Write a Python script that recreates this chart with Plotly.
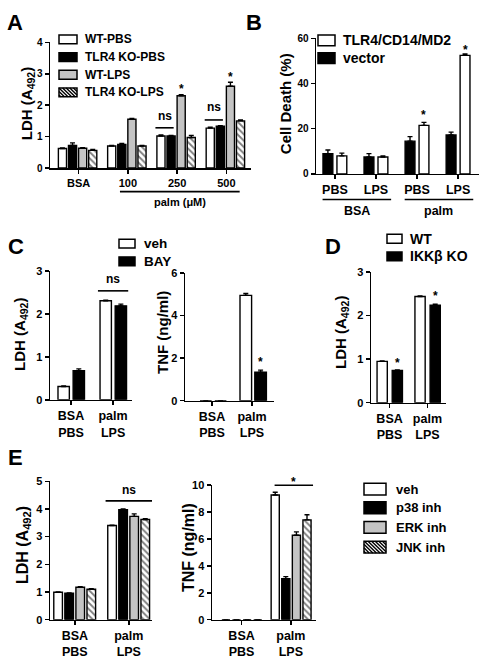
import plotly.graph_objects as go

# ---------------- data ----------------
# Panel A
A_groups = ["BSA", "100", "250", "500"]
A_names = ["WT-PBS", "TLR4 KO-PBS", "WT-LPS", "TLR4 KO-LPS"]
A_wt_pbs = [0.62, 0.70, 1.02, 1.27]
A_ko_pbs = [0.72, 0.75, 1.02, 1.33]
A_wt_lps = [0.63, 1.55, 2.30, 2.60]
A_ko_lps = [0.56, 0.70, 0.97, 1.50]
A_wt_pbs_err = [0.02, 0.02, 0.03, 0.03]
A_ko_pbs_err = [0.08, 0.03, 0.02, 0.02]
A_wt_lps_err = [0.02, 0.03, 0.03, 0.13]
A_ko_lps_err = [0.03, 0.02, 0.07, 0.03]
A_yticks = [0, 1, 2, 3, 4]

# Panel B
B_cats = ["BSA-PBS", "BSA-LPS", "palm-PBS", "palm-LPS"]
B_ticktext = ["PBS", "LPS", "PBS", "LPS"]
B_names = ["TLR4/CD14/MD2", "vector"]
B_vector = [9.0, 7.5, 14.5, 17.2]
B_vector_err = [1.6, 1.5, 2.0, 1.3]
B_tlr4 = [8.0, 7.5, 21.5, 52.5]
B_tlr4_err = [1.2, 0.5, 1.3, 0.6]
B_yticks = [0, 20, 40, 60]

# Panel C
C_cats = ["BSA PBS", "palm LPS"]
C_ticktext = ["BSA<br>PBS", "palm<br>LPS"]
C_names = ["veh", "BAY"]
C_ldh_veh = [0.31, 2.31]
C_ldh_veh_err = [0.01, 0.01]
C_ldh_bay = [0.68, 2.19]
C_ldh_bay_err = [0.04, 0.04]
C_tnf_veh = [0.0, 4.95]
C_tnf_veh_err = [0.0, 0.09]
C_tnf_bay = [0.0, 1.34]
C_tnf_bay_err = [0.0, 0.1]
C_ldh_yticks = [0, 1, 2, 3]
C_tnf_yticks = [0, 2, 4, 6]

# Panel D
D_cats = ["BSA PBS", "palm LPS"]
D_ticktext = ["BSA<br>PBS", "palm<br>LPS"]
D_names = ["WT", "IKKβ KO"]
D_wt = [0.95, 2.44]
D_wt_err = [0.01, 0.01]
D_ko = [0.74, 2.24]
D_ko_err = [0.01, 0.02]
D_yticks = [0, 1, 2, 3]

# Panel E
E_cats = ["BSA PBS", "palm LPS"]
E_ticktext = ["BSA<br>PBS", "palm<br>LPS"]
E_names = ["veh", "p38 inh", "ERK inh", "JNK inh"]
E_ldh_veh = [0.99, 3.40]
E_ldh_p38 = [0.96, 3.97]
E_ldh_erk = [1.17, 3.73]
E_ldh_jnk = [1.10, 3.62]
E_ldh_veh_err = [0.01, 0.01]
E_ldh_p38_err = [0.01, 0.03]
E_ldh_erk_err = [0.02, 0.09]
E_ldh_jnk_err = [0.02, 0.03]
E_tnf_veh = [0.0, 9.27]
E_tnf_p38 = [0.0, 3.05]
E_tnf_erk = [0.0, 6.28]
E_tnf_jnk = [0.0, 7.42]
E_tnf_veh_err = [0.0, 0.2]
E_tnf_p38_err = [0.0, 0.15]
E_tnf_erk_err = [0.0, 0.25]
E_tnf_jnk_err = [0.0, 0.38]
E_ldh_yticks = [0, 1, 2, 3, 4, 5]
E_tnf_yticks = [0, 2, 4, 6, 8, 10]

# ---------------- styling helpers ----------------
W, H = 486, 664
FONT = "Arial, Liberation Sans, sans-serif"
GRAY = "#c4c4c4"
STYLES = {
    "white": dict(color="white"),
    "black": dict(color="black"),
    "gray": dict(color=GRAY),
    "hatch": dict(color="white", pattern=dict(shape="\\", fgcolor="black", bgcolor="white",
                                              size=4.5, solidity=0.42, fillmode="overlay")),
}


def pxx(x):
    return x / W


def pyy(y):
    return 1 - y / H


fig = go.Figure()
layout = {}
shapes = []
annotations = []


class Panel:
    def __init__(self, idx, cats, ticktext, series, x_px, y_px, xr, yr, yticks,
                 off0, slot, width, xtick_size, ytick_size):
        self.x_px, self.y_px, self.xr, self.yr = x_px, y_px, xr, yr
        self.cats = cats
        self.off0, self.slot, self.width = off0, slot, width
        xa = "x" if idx == 1 else f"x{idx}"
        ya = "y" if idx == 1 else f"y{idx}"
        for i, (name, vals, errs, style) in enumerate(series):
            st = STYLES[style]
            marker = dict(color=st["color"], line=dict(color="black", width=1.4))
            if "pattern" in st:
                marker["pattern"] = st["pattern"]
            fig.add_trace(go.Bar(
                x=cats, y=vals, name=name, xaxis=xa, yaxis=ya,
                offset=off0[i] if isinstance(off0, list) else off0 + i * slot,
                width=width,
                marker=marker,
                error_y=dict(type="data", array=errs, arrayminus=[0] * len(errs),
                             symmetric=False, color="black", thickness=1.4, width=2.5),
                showlegend=False, cliponaxis=False, hoverinfo="skip",
            ))
        axis_common = dict(showline=True, linecolor="black", linewidth=1.5, ticks="outside",
                           ticklen=4, tickwidth=1.5, tickcolor="black", showgrid=False,
                           zeroline=False, fixedrange=True)
        layout["xaxis" if idx == 1 else f"xaxis{idx}"] = dict(
            domain=[pxx(x_px[0]), pxx(x_px[1])], range=xr, type="category",
            categoryorder="array", categoryarray=cats, tickvals=cats, ticktext=ticktext,
            anchor=ya, tickfont=dict(family=FONT, size=xtick_size, color="black", weight="bold"),
            **axis_common)
        layout["yaxis" if idx == 1 else f"yaxis{idx}"] = dict(
            domain=[pyy(y_px[0]), pyy(y_px[1])], range=yr, tickvals=yticks, anchor=xa,
            tickfont=dict(family=FONT, size=ytick_size, color="black", weight="bold"),
            **axis_common)

    def X(self, v):
        return pxx(self.x_px[0] + (v - self.xr[0]) / (self.xr[1] - self.xr[0]) * (self.x_px[1] - self.x_px[0]))

    def bar_center(self, cat_i, series_i):
        off = self.off0[series_i] if isinstance(self.off0, list) else self.off0 + series_i * self.slot
        return self.X(cat_i + off + self.width / 2)

    def Y(self, v):
        return pyy(self.y_px[0] - (v - self.yr[0]) / (self.yr[1] - self.yr[0]) * (self.y_px[0] - self.y_px[1]))


def text(x, y, s, size, angle=0, xanchor="center", yanchor="middle", yshift=0):
    annotations.append(dict(x=x, y=y, xref="paper", yref="paper", text=s, showarrow=False,
                            textangle=angle, xanchor=xanchor, yanchor=yanchor, yshift=yshift,
                            font=dict(family=FONT, size=size, color="black", weight="bold")))


def hline(x0, x1, y):
    shapes.append(dict(type="line", xref="paper", yref="paper", x0=x0, x1=x1, y0=y, y1=y,
                       line=dict(color="black", width=1.6)))


def star(x, y):
    text(x, y, "*", 12, yshift=-3)


def legend(names, styles, bx0, bx1, ycs, bh, tx, size):
    for name, style, yc in zip(names, styles, ycs):
        y0, y1 = yc - bh / 2, yc + bh / 2
        fill = "white" if style == "hatch" else STYLES[style]["color"]
        shapes.append(dict(type="rect", xref="paper", yref="paper", x0=pxx(bx0), x1=pxx(bx1),
                           y0=pyy(y1), y1=pyy(y0), fillcolor=fill, line=dict(width=0)))
        if style == "hatch":
            w, h = bx1 - bx0, y1 - y0
            c = -w
            while c < h:
                t0, t1 = max(0, -c), min(w, h - c)
                if t1 > t0:
                    shapes.append(dict(type="line", xref="paper", yref="paper",
                                       x0=pxx(bx0 + t0), y0=pyy(y0 + t0 + c),
                                       x1=pxx(bx0 + t1), y1=pyy(y0 + t1 + c),
                                       line=dict(color="black", width=1.4)))
                c += 3.6
        shapes.append(dict(type="rect", xref="paper", yref="paper", x0=pxx(bx0), x1=pxx(bx1),
                           y0=pyy(y1), y1=pyy(y0), fillcolor="rgba(0,0,0,0)",
                           line=dict(color="black", width=1.5)))
        text(pxx(tx), pyy(yc), name, size, xanchor="left")


# ---------------- Panel A ----------------
pA = Panel(1, A_groups, A_groups,
           [(A_names[0], A_wt_pbs, A_wt_pbs_err, "white"),
            (A_names[1], A_ko_pbs, A_ko_pbs_err, "black"),
            (A_names[2], A_wt_lps, A_wt_lps_err, "gray"),
            (A_names[3], A_ko_lps, A_ko_lps_err, "hatch")],
           (50, 251), (165, 37), [-0.58, 3.5], [0, 4], A_yticks,
           -0.41, 0.205, 0.165, 11, 10)
for gi, (ly, ty) in zip([2, 3], [(1.28, 1.66), (1.53, 1.94)]):
    hline(pA.X(gi - 0.44), pA.X(gi - 0.07), pA.Y(ly))
    text(pA.X(gi - 0.255), pA.Y(ty), "ns", 12)
star(pA.bar_center(2, 2), pA.Y(2.62))
star(pA.bar_center(3, 2), pA.Y(3.0))
hline(pA.X(1 - 0.16), pA.X(3 + 0.27), pyy(189))
text((pA.X(1 - 0.16) + pA.X(3 + 0.27)) / 2, pyy(200), "palm (μM)", 11)
text(pxx(27), pyy(100), "LDH (A<sub>492</sub>)", 15, angle=-90)
legend(A_names, ["white", "black", "gray", "hatch"], 59, 77, [34, 52, 70, 88], 9, 83, 12)
text(pxx(15), pyy(17), "A", 22)

# ---------------- Panel B ----------------
pB = Panel(2, B_cats, B_ticktext,
           [(B_names[1], B_vector, B_vector_err, "black"),
            (B_names[0], B_tlr4, B_tlr4_err, "white")],
           (316, 479), (171, 33), [-0.46, 3.51], [0, 60], B_yticks,
           [-0.29, 0.05], 0, 0.24, 12.5, 10)
star(pB.bar_center(2, 1), pB.Y(27.4))
star(pB.bar_center(3, 1), pB.Y(56.1))
for a, b, lab in [(0, 1, "BSA"), (2, 3, "palm")]:
    x0, x1 = pB.X(a - 0.3), pB.X(b + 0.37)
    hline(x0, x1, pyy(197))
    text((x0 + x1) / 2, pyy(209), lab, 12.5)
text(pxx(285), pyy(100), "Cell Death (%)", 15, angle=-90)
legend(B_names, ["white", "black"], 318, 335, [35, 53], 11, 341, 14)
text(pxx(254), pyy(17), "B", 22)

# ---------------- Panel C ----------------
pC1 = Panel(3, C_cats, C_ticktext,
            [(C_names[0], C_ldh_veh, C_ldh_veh_err, "white"),
             (C_names[1], C_ldh_bay, C_ldh_bay_err, "black")],
            (50, 132), (401, 270), [-0.5, 1.45], [0, 3], C_ldh_yticks,
            [-0.31, 0.05], 0, 0.27, 12.5, 11)
hline(pC1.X(1 - 0.36), pC1.X(1 + 0.36), pC1.Y(2.54))
text(pC1.X(1), pC1.Y(2.82), "ns", 12)
text(pxx(21), pyy(335), "LDH (A<sub>492</sub>)", 15, angle=-90)

pC2 = Panel(4, C_cats, C_ticktext,
            [(C_names[0], C_tnf_veh, C_tnf_veh_err, "white"),
             (C_names[1], C_tnf_bay, C_tnf_bay_err, "black")],
            (185, 274), (402, 272), [-0.675, 1.55], [0, 6], C_tnf_yticks,
            [-0.3, 0.07], 0, 0.29, 12.5, 11)
star(pC2.bar_center(1, 1), pC2.Y(1.94))
text(pxx(163), pyy(333), "TNF (ng/ml)", 15, angle=-90)
legend(C_names, ["white", "black"], 119, 135, [242, 260], 9, 142, 13.5)
text(pxx(16), pyy(245), "C", 22)

# ---------------- Panel D ----------------
pD = Panel(5, D_cats, D_ticktext,
           [(D_names[0], D_wt, D_wt_err, "white"),
            (D_names[1], D_ko, D_ko_err, "black")],
           (371, 446), (404, 271), [-0.49, 1.49], [0, 3], D_yticks,
           [-0.33, 0.07], 0, 0.27, 12.5, 11)
star(pD.bar_center(0, 1), pD.Y(0.99))
star(pD.bar_center(1, 1), pD.Y(2.53))
text(pxx(342), pyy(333), "LDH (A<sub>492</sub>)", 15, angle=-90)
legend(D_names, ["white", "black"], 387, 402, [237, 255], 9, 408, 14)
text(pxx(333), pyy(245), "D", 22)

# ---------------- Panel E ----------------
pE1 = Panel(6, E_cats, E_ticktext,
            [(E_names[0], E_ldh_veh, E_ldh_veh_err, "white"),
             (E_names[1], E_ldh_p38, E_ldh_p38_err, "black"),
             (E_names[2], E_ldh_erk, E_ldh_erk_err, "gray"),
             (E_names[3], E_ldh_jnk, E_ldh_jnk_err, "hatch")],
            (50, 152), (625, 484), [-0.46, 1.43], [0, 5], E_ldh_yticks,
            -0.39, 0.205, 0.16, 12.5, 11)
hline(pE1.X(1 - 0.43), pE1.X(1 + 0.43), pE1.Y(4.29))
text(pE1.X(1), pE1.Y(4.68), "ns", 12)
text(pxx(23), pyy(549), "LDH (A<sub>492</sub>)", 16, angle=-90)

pE2 = Panel(7, E_cats, E_ticktext,
            [(E_names[0], E_tnf_veh, E_tnf_veh_err, "white"),
             (E_names[1], E_tnf_p38, E_tnf_p38_err, "black"),
             (E_names[2], E_tnf_erk, E_tnf_erk_err, "gray"),
             (E_names[3], E_tnf_jnk, E_tnf_jnk_err, "hatch")],
            (212, 316), (625, 488), [-0.6, 1.51], [0, 10], E_tnf_yticks,
            -0.4, 0.215, 0.165, 12.5, 11)
hline(pE2.X(1 - 0.33), pE2.X(1 + 0.45), pE2.Y(10.0))
star(pE2.X(1 + 0.06), pE2.Y(10.45))
text(pxx(188), pyy(552), "TNF (ng/ml)", 16, angle=-90)
legend(E_names, ["white", "black", "gray", "hatch"], 364, 386, [492, 511, 531, 551], 12, 394, 13)
text(pxx(15), pyy(460), "E", 22)

fig.update_layout(
    width=W, height=H, margin=dict(l=0, r=0, t=0, b=0),
    paper_bgcolor="white", plot_bgcolor="white", barmode="overlay",
    showlegend=False, shapes=shapes, annotations=annotations,
    font=dict(family=FONT, color="black"), hovermode=False,
    **layout,
)
fig.write_html("out.html", config={"displayModeBar": False, "staticPlot": True},
               post_script="document.body.style.margin='0px';")
